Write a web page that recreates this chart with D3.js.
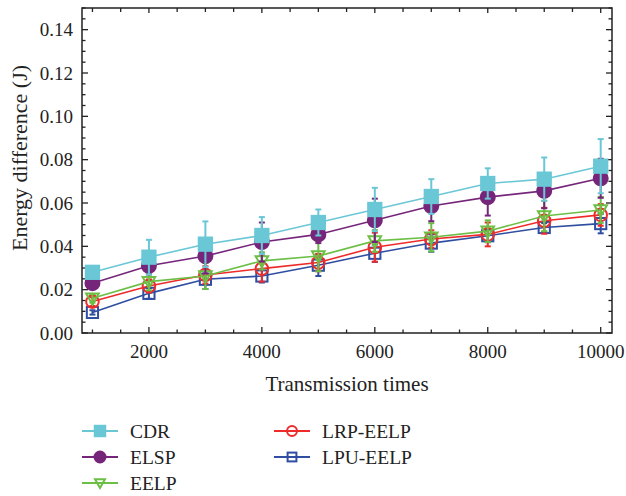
<!DOCTYPE html>
<html>
<head>
<meta charset="utf-8">
<script src="https://cdn.jsdelivr.net/npm/d3@7"></script>
<style>
  body { margin: 0; background: #fff; }
  svg text { font-family: "Liberation Serif", "DejaVu Serif", serif; fill: #222; }
</style>
</head>
<body>
<svg width="626" height="496"></svg>
<script>
var times = [1000, 2000, 3000, 4000, 5000, 6000, 7000, 8000, 9000, 10000];

var cdr     = [0.028, 0.035, 0.041, 0.045, 0.051, 0.057, 0.063, 0.069, 0.071, 0.077];
var cdrErr  = [0.002, 0.008, 0.0105, 0.0085, 0.006, 0.010, 0.008, 0.007, 0.010, 0.0125];
var elsp    = [0.023, 0.031, 0.0355, 0.042, 0.0455, 0.052, 0.0586, 0.0627, 0.0656, 0.0714];
var elspErr = [0.002, 0.004, 0.008, 0.009, 0.004, 0.010, 0.007, 0.0085, 0.008, 0.009];
var eelp    = [0.016, 0.0237, 0.0263, 0.0333, 0.0355, 0.0425, 0.0442, 0.047, 0.054, 0.0568];
var eelpErr = [0.002, 0.004, 0.006, 0.004, 0.007, 0.005, 0.0065, 0.005, 0.007, 0.006];
var lrp     = [0.0145, 0.0217, 0.0268, 0.0297, 0.0325, 0.0396, 0.0434, 0.0455, 0.0518, 0.0545];
var lrpErr  = [0.002, 0.003, 0.004, 0.006, 0.004, 0.0067, 0.004, 0.0055, 0.006, 0.005];
var lpu     = [0.0095, 0.0183, 0.0248, 0.0263, 0.0313, 0.0368, 0.0415, 0.0449, 0.0487, 0.0505];
var lpuErr  = [0.001, 0.0025, 0.0045, 0.003, 0.005, 0.004, 0.004, 0.003, 0.002, 0.0045];

var xTicks = [2000, 4000, 6000, 8000, 10000];
var yTicks = [0, 0.02, 0.04, 0.06, 0.08, 0.10, 0.12, 0.14];

var series = [
  {name: "CDR",      values: cdr,  errs: cdrErr,  color: "#6ac7d6", shape: "square", filled: true},
  {name: "ELSP",     values: elsp, errs: elspErr, color: "#76267a", shape: "circle", filled: true},
  {name: "EELP",     values: eelp, errs: eelpErr, color: "#6cbf45", shape: "triangle", filled: false},
  {name: "LRP-EELP", values: lrp,  errs: lrpErr,  color: "#ee2b2b", shape: "circle", filled: false},
  {name: "LPU-EELP", values: lpu,  errs: lpuErr,  color: "#2f4ea2", shape: "square", filled: false}
];

var svg = d3.select("svg"),
    margin = {top: 8, right: 14, bottom: 163, left: 82},
    width  = +svg.attr("width") - margin.left - margin.right,
    height = +svg.attr("height") - margin.top - margin.bottom;

var x = d3.scaleLinear().domain([815, 10200]).range([0, width]),
    y = d3.scaleLinear().domain([0, 0.15]).range([height, 0]);

var g = svg.append("g")
           .attr("transform", "translate(" + margin.left + "," + margin.top + ")");

// ticks on all four sides, pointing inward
var xMinor = d3.range(1000, 10001, 500),
    yMinor = d3.range(0, 0.1501, 0.005);

function isMajorX(d) { return d % 2000 === 0; }
function isMajorY(d) { return Math.abs(Math.round(d * 1000) % 20) < 0.5; }

g.selectAll(".xtick-b").data(xMinor).enter().append("line")
  .attr("x1", function(d) { return x(d); }).attr("x2", function(d) { return x(d); })
  .attr("y1", height).attr("y2", function(d) { return height - (isMajorX(d) ? 6 : 3.5); })
  .attr("stroke", "#222").attr("stroke-width", 1.3);

g.selectAll(".xtick-t").data(xMinor).enter().append("line")
  .attr("x1", function(d) { return x(d); }).attr("x2", function(d) { return x(d); })
  .attr("y1", 0).attr("y2", function(d) { return isMajorX(d) ? 5 : 4; })
  .attr("stroke", "#222").attr("stroke-width", 1.3);

g.selectAll(".ytick-l").data(yMinor).enter().append("line")
  .attr("y1", function(d) { return y(d); }).attr("y2", function(d) { return y(d); })
  .attr("x1", 0).attr("x2", function(d) { return isMajorY(d) ? 6 : 3.5; })
  .attr("stroke", "#222").attr("stroke-width", 1.3);

g.selectAll(".ytick-r").data(yMinor).enter().append("line")
  .attr("y1", function(d) { return y(d); }).attr("y2", function(d) { return y(d); })
  .attr("x1", width).attr("x2", function(d) { return width - (isMajorY(d) ? 6 : 3.5); })
  .attr("stroke", "#222").attr("stroke-width", 1.3);

g.append("rect")
  .attr("width", width).attr("height", height)
  .attr("fill", "none").attr("stroke", "#222").attr("stroke-width", 1.5);

g.selectAll(".xlabel").data(xTicks).enter().append("text")
  .attr("x", function(d) { return x(d); })
  .attr("y", height + 25)
  .attr("text-anchor", "middle")
  .attr("font-size", 19)
  .text(function(d) { return d; });

g.selectAll(".ylabel").data(yTicks).enter().append("text")
  .attr("x", -9)
  .attr("y", function(d) { return y(d); })
  .attr("dy", "0.35em")
  .attr("text-anchor", "end")
  .attr("font-size", 19)
  .text(function(d) { return d3.format(".2f")(d); });

svg.append("text")
  .attr("x", 347)
  .attr("y", 391)
  .attr("text-anchor", "middle")
  .attr("font-size", 21)
  .text("Transmission times");

svg.append("text")
  .attr("transform", "translate(27,158) rotate(-90)")
  .attr("text-anchor", "middle")
  .attr("font-size", 22)
  .text("Energy difference (J)");

function drawMarker(sel, s, cx, cy, size) {
  var fill = s.filled ? s.color : "none";
  if (s.shape === "square") {
    var h = s.filled ? size * 0.95 : size * 0.8;
    sel.append("rect")
      .attr("x", cx - h / 2).attr("y", cy - h / 2)
      .attr("width", h).attr("height", h)
      .attr("fill", fill).attr("stroke", s.color).attr("stroke-width", 2);
  } else if (s.shape === "circle") {
    sel.append("circle")
      .attr("cx", cx).attr("cy", cy).attr("r", s.filled ? size * 0.5 : size * 0.45)
      .attr("fill", fill).attr("stroke", s.color).attr("stroke-width", 2);
  } else {
    var r = size * 0.45;
    sel.append("path")
      .attr("d", "M" + (cx - r) + "," + (cy - r * 0.75) + "L" + (cx + r) + "," + (cy - r * 0.75) +
                 "L" + cx + "," + (cy + r) + "Z")
      .attr("fill", "none").attr("stroke", s.color).attr("stroke-width", 2);
  }
}

var line = d3.line()
  .x(function(d) { return x(d.t); })
  .y(function(d) { return y(d.v); });

// draw in reverse so CDR ends on top
series.slice().reverse().forEach(function(s) {
  var pts = times.map(function(t, i) { return {t: t, v: s.values[i], e: s.errs[i]}; });
  var sg = g.append("g");

  sg.append("path")
    .datum(pts)
    .attr("d", line)
    .attr("fill", "none")
    .attr("stroke", s.color)
    .attr("stroke-width", 1.6);

  pts.forEach(function(p) {
    var px = x(p.t);
    sg.append("line")
      .attr("x1", px).attr("x2", px)
      .attr("y1", y(p.v - p.e)).attr("y2", y(p.v + p.e))
      .attr("stroke", s.color).attr("stroke-width", 2);
    [p.v - p.e, p.v + p.e].forEach(function(v) {
      sg.append("line")
        .attr("x1", px - 3).attr("x2", px + 3)
        .attr("y1", y(v)).attr("y2", y(v))
        .attr("stroke", s.color).attr("stroke-width", 2);
    });
    drawMarker(sg, s, px, y(p.v), 14);
  });
});

// legend
var legend = svg.append("g");
series.forEach(function(s, i) {
  var col = i < 3 ? 0 : 1,
      row = i < 3 ? i : i - 3,
      lx = col === 0 ? 82 : 274,
      ly = 431 + row * 26;
  legend.append("line")
    .attr("x1", lx).attr("x2", lx + 36)
    .attr("y1", ly).attr("y2", ly)
    .attr("stroke", s.color).attr("stroke-width", 2);
  drawMarker(legend, s, lx + 18, ly, 11);
  legend.append("text")
    .attr("x", lx + 48)
    .attr("y", ly)
    .attr("dy", "0.35em")
    .attr("font-size", 19.5)
    .text(s.name);
});
</script>
</body>
</html>
